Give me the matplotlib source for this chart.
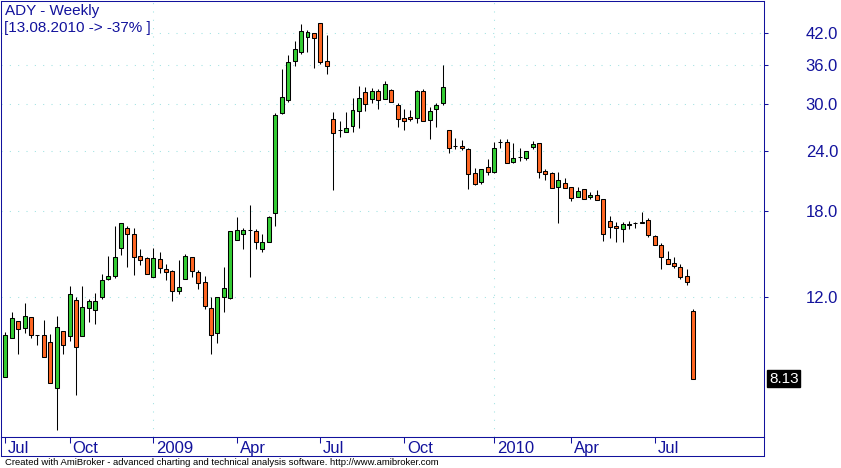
import matplotlib
matplotlib.use("Agg")
import matplotlib.pyplot as plt
import numpy as np
from matplotlib import font_manager
from matplotlib.ticker import FixedLocator, NullLocator, NullFormatter

# weekly bars, ADY, 25.07.2008 .. 13.08.2010
opens = [8.19, 9.85, 10.69, 10.33, 10.89, 10.00, 10.00, 9.68, 7.77, 10.20,
         9.95, 11.81, 9.95, 11.36, 11.27, 11.97, 13.04, 13.23, 15.11, 16.61,
         16.15, 14.55, 14.41, 13.17, 14.34, 13.67, 13.55, 12.33, 13.04, 14.48,
         13.49, 12.87, 11.36, 10.10, 11.97, 11.92, 15.70, 16.15, 16.47, 16.39,
         15.03, 15.55, 17.85, 28.69, 30.52, 36.72, 38.32, 41.15, 41.94, 43.98,
         36.72, 27.88, 26.54, 26.21, 26.96, 28.96, 31.70, 30.66, 31.85, 30.66,
         32.00, 29.79, 28.02, 28.15, 28.02, 31.85, 27.75, 29.24, 30.08, 26.47,
         24.52, 24.52, 24.18, 21.58, 20.68, 22.20, 21.68, 25.00, 25.00, 22.74,
         23.28, 23.17, 24.41, 24.88, 21.79, 21.58, 20.19, 20.58, 20.19, 19.26,
         20.00, 19.26, 19.44, 19.08, 17.18, 16.77, 16.53, 16.86, 17.02, 17.02,
         17.27, 16.00, 15.33, 14.34, 14.08, 13.81, 13.23, 11.21]
highs = [10.15, 11.16, 10.69, 11.64, 10.89, 10.00, 10.74, 10.05, 10.94, 10.20,
         12.62, 11.97, 12.62, 11.86, 12.21, 13.36, 14.55, 16.77, 17.02, 16.77,
         16.61, 15.03, 14.48, 15.11, 14.83, 14.01, 13.62, 14.28, 14.69, 14.48,
         13.62, 13.23, 11.97, 11.97, 13.81, 16.39, 17.50, 16.61, 18.54, 16.53,
         16.15, 17.59, 28.69, 35.32, 37.77, 40.38, 43.77, 42.54, 41.94, 43.98,
         41.54, 28.82, 27.62, 28.82, 30.78, 32.60, 32.44, 32.28, 32.15, 33.39,
         32.15, 30.08, 29.24, 29.10, 32.00, 32.15, 29.50, 30.08, 36.02, 26.47,
         25.48, 25.24, 24.30, 22.10, 21.99, 23.06, 25.00, 25.36, 25.36, 24.88,
         24.30, 23.95, 25.12, 24.88, 21.99, 21.68, 21.68, 21.07, 20.19, 20.19,
         20.00, 19.72, 19.91, 19.08, 17.59, 17.10, 17.10, 17.18, 17.10, 17.93,
         17.43, 16.08, 15.48, 14.90, 14.48, 14.01, 13.67, 11.32]
lows = [8.19, 9.85, 9.14, 10.13, 9.85, 9.57, 9.01, 7.97, 6.38, 9.17,
        9.72, 7.55, 9.95, 10.64, 10.54, 11.86, 12.99, 13.10, 14.62, 13.81,
        13.30, 13.94, 13.36, 13.17, 13.43, 12.99, 11.76, 12.15, 13.04, 13.17,
        12.43, 11.31, 9.14, 9.63, 11.16, 11.86, 15.70, 15.03, 13.17, 15.03,
        14.83, 15.55, 16.77, 28.55, 30.23, 35.84, 37.95, 38.32, 35.49, 36.19,
        34.52, 19.91, 25.59, 26.21, 26.21, 26.70, 28.96, 30.08, 29.24, 30.66,
        30.23, 26.83, 26.47, 27.62, 27.36, 27.62, 25.36, 26.83, 29.79, 23.73,
        24.18, 24.07, 20.00, 20.38, 20.48, 21.37, 21.58, 24.30, 22.63, 22.63,
        22.85, 22.95, 24.18, 21.07, 20.88, 20.10, 17.07, 20.10, 18.90, 19.26,
        19.08, 19.08, 18.99, 15.63, 15.85, 15.55, 15.55, 16.53, 16.61, 17.02,
        15.92, 15.33, 13.67, 14.01, 13.74, 13.04, 12.68, 8.13]
closes = [10.02, 10.84, 10.28, 10.94, 10.00, 10.00, 9.01, 7.97, 10.39, 9.54,
          12.15, 9.45, 11.42, 11.76, 11.76, 12.99, 13.23, 14.48, 17.02, 16.15,
          14.48, 14.28, 13.36, 14.41, 13.74, 13.49, 12.33, 12.56, 14.55, 13.55,
          12.80, 11.48, 10.00, 11.97, 12.49, 16.39, 16.47, 16.47, 16.47, 15.55,
          15.55, 17.50, 28.41, 30.93, 36.54, 38.87, 42.34, 42.14, 40.96, 36.54,
          35.84, 26.09, 26.47, 26.70, 29.10, 30.78, 29.94, 31.85, 30.52, 32.92,
          30.23, 27.88, 27.62, 27.88, 31.85, 27.62, 28.96, 29.79, 32.44, 24.30,
          24.52, 24.30, 21.47, 20.48, 21.99, 21.68, 24.30, 25.00, 22.63, 23.17,
          23.28, 23.95, 24.76, 21.68, 21.47, 20.10, 20.88, 20.10, 19.17, 19.81,
          19.08, 19.44, 18.99, 16.15, 16.69, 16.61, 16.94, 16.94, 17.02, 17.10,
          16.08, 15.33, 14.48, 14.01, 13.87, 13.17, 12.87, 8.13]

tick_bars = [0, 10, 23, 36, 49, 62, 76, 88, 101]
tick_labels = ["Jul", "Oct", "2009", "Apr", "Jul", "Oct", "2010", "Apr", "Jul"]
year_bars = [23, 76]
price_levels = [12.0, 18.0, 24.0, 30.0, 36.0, 42.0]

title = "ADY - Weekly"
subtitle = "[13.08.2010 -> -37% ]"
footer = ("Created with AmiBroker - advanced charting and technical analysis "
          "software. http://www.amibroker.com")

W, H = 841, 468
BLUE = "#12129c"
GREEN = "#33cc33"
ORANGE = "#ff6622"
GRID = "#9fe2e2"


def pick_family(names, default="Liberation Sans"):
    installed = {f.name for f in font_manager.fontManager.ttflist}
    for name in names:
        if name in installed:
            return name
    return default


def px_box(x0, y0, x1, y1):
    # pixel rectangle (top-left origin) -> figure fraction
    return [x0 / W, 1 - y1 / H, (x1 - x0) / W, (y1 - y0) / H]


plt.rcParams["font.family"] = ["Liberation Sans", "DejaVu Sans"]
narrow = pick_family(["Liberation Sans Narrow", "Arial Narrow"])

fig = plt.figure(figsize=(W / 100, H / 100), dpi=100)
ax = fig.add_axes(px_box(1, 1, 764, 437))
strip = fig.add_axes(px_box(1, 437, 764, 456), sharex=ax)

o = np.array(opens)
h = np.array(highs)
l = np.array(lows)
c = np.array(closes)
x = np.arange(len(o))
colors = np.where(c >= o, GREEN, ORANGE)

# grid
for lvl in price_levels:
    ax.axhline(lvl, color=GRID, lw=0.75, ls=(0, (1, 7)), zorder=1)
for b in year_bars:
    ax.axvline(b, color=GRID, lw=0.75, ls=(0, (1, 7)), zorder=1)

# candles
ax.vlines(x, l, h, color="black", lw=0.75, zorder=2)
ax.bar(x, c - o, bottom=o, width=0.62, color=colors, edgecolor="black",
       linewidth=0.75, zorder=3)

ax.set_yscale("log")
ax.set_ylim(6.171, 48.89)
ax.set_xlim(-0.67, 118.0)
ax.yaxis.set_major_locator(FixedLocator(price_levels))
ax.yaxis.set_minor_locator(NullLocator())
ax.yaxis.set_minor_formatter(NullFormatter())
ax.set_yticklabels([f"{v:.1f}" for v in price_levels])
ax.yaxis.tick_right()
ax.tick_params(axis="y", length=3, width=0.75, color=BLUE, labelcolor=BLUE,
               labelsize=12, pad=27)
ax.tick_params(axis="x", bottom=False, labelbottom=False)
for sp in ax.spines.values():
    sp.set_color(BLUE)
    sp.set_linewidth(0.75)

# last price marker
ax.annotate(f"{closes[-1]:.2f}", xy=(1, closes[-1]),
            xycoords=("axes fraction", "data"), xytext=(5, 0),
            textcoords="offset pixels", ha="left", va="center",
            color="white", fontsize=11, annotation_clip=False,
            bbox=dict(boxstyle="square,pad=0.1", fc="black", ec="black"))

# date strip
strip.set_ylim(0, 1)
strip.yaxis.set_visible(False)
strip.tick_params(axis="x", bottom=False, labelbottom=False)
strip.vlines(tick_bars, 0.66, 1.0, color=BLUE, lw=0.75)
for b, lab in zip(tick_bars, tick_labels):
    strip.text(b + 0.45, 0.42, lab, ha="left", va="center", fontsize=12,
               color=BLUE)
for sp in strip.spines.values():
    sp.set_color(BLUE)
    sp.set_linewidth(0.75)

fig.text(5 / W, 1 - 15.5 / H, title, va="baseline", fontsize=11, color=BLUE)
fig.text(4 / W, 1 - 32 / H, subtitle, va="baseline", fontsize=11,
         color=BLUE, bbox=dict(fc="white", ec="none", pad=0))
fig.text(5 / W, 1 - 465 / H, footer, va="baseline", fontsize=6.8,
         family=narrow, color="black")

fig.savefig("out.png", dpi=100, facecolor="white")
plt.close(fig)
